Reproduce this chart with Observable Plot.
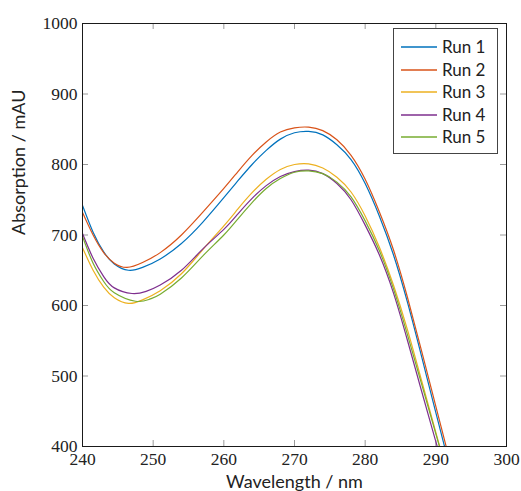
<!DOCTYPE html>
<html>
<head>
<meta charset="utf-8">
<script src="https://cdn.jsdelivr.net/npm/d3@7"></script>
<script src="https://cdn.jsdelivr.net/npm/@observablehq/plot@0.6"></script>
<style>
  html, body { margin: 0; padding: 0; background: #fff; }
  #chart { position: relative; width: 521px; height: 491px; }
  #chart svg { display: block; }
</style>
</head>
<body>
<div id="chart"></div>
<script>
// Data
const runNames = ["Run 1", "Run 2", "Run 3", "Run 4", "Run 5"];
const runColors = ["#0072BD", "#D95319", "#EDB120", "#7E2F8E", "#77AC30"];

const run1 = [[240,742],[241.5,704],[243,676],[244.5,659],[246.5,650],[248.5,654],[251,666],[254,688],[257,718],[260,753],[262,777],[264,800],[266,820],[268,836],[270,845],[272,847],[274,842],[276,828],[278,807],[280,773],[282,727],[284,672],[286,604],[288,527],[290,448],[292,370]];
const run2 = [[240,732],[241.5,700],[243,675],[244.5,660],[246.3,654],[248.5,661],[251,675],[254,700],[257,732],[260,766],[262,790],[264,813],[266,832],[268,846],[270,852],[272,853],[274,848],[276,835],[278,813],[280,779],[282,733],[284,679],[286,611],[288,535],[290,457],[292,379]];
const run3 = [[240,682],[241.5,650],[243,626],[244.5,611],[246.5,603],[248.5,608],[251,621],[254,645],[257,679],[260,713],[262,737],[264,760],[266,779],[268,793],[270,800],[272,801],[274,795],[276,782],[278,761],[280,727],[282,683],[284,629],[286,565],[288,493],[290,420],[292,347]];
const run4 = [[240,702],[241.5,667],[243,641],[244.5,625],[247,617],[249,620],[251,629],[254,650],[257,680],[260,708],[262,730],[264,752],[266,770],[268,783],[270,790],[272,792],[274,787],[276,773],[278,750],[280,714],[282,672],[284,618],[286,550],[288,478],[290,407],[292,336]];
const run5 = [[240,698],[241.5,660],[243,634],[244.5,618],[247.5,606],[249.5,609],[251,616],[254,639],[257,670],[260,700],[262,723],[264,746],[266,766],[268,780],[270,789],[272,791],[274,787],[276,775],[278,754],[280,720],[282,678],[284,624],[286,558],[288,488],[290,418],[292,348]];

const xTicks = [240, 250, 260, 270, 280, 290, 300];
const yTicks = [400, 500, 600, 700, 800, 900, 1000];
const xLabel = "Wavelength / nm";
const yLabel = "Absorption / mAU";

const runs = [run1, run2, run3, run4, run5];
const rows = runs.flatMap((r, i) => r.map(([x, y]) => ({run: runNames[i], x, y})));

const W = 521, H = 491;
const mLeft = 82, mRight = 15, mTop = 23, mBottom = 45;
const frameW = W - mLeft - mRight, frameH = H - mTop - mBottom;
const tl = 6;
const tickColor = "#9a9a9a";
const sans = "Lato, 'Open Sans', sans-serif";

const plot = Plot.plot({
  width: W,
  height: H,
  marginLeft: mLeft,
  marginRight: mRight,
  marginTop: mTop,
  marginBottom: mBottom,
  style: {background: "#fff", overflow: "visible", fontFamily: "'Liberation Serif', 'DejaVu Serif', serif", fontSize: "17.5px", color: "#222"},
  x: {domain: [240, 300], ticks: xTicks, tickSize: 0, tickPadding: 6, tickFormat: d => String(d), label: null},
  y: {domain: [400, 1000], ticks: yTicks, tickSize: 0, tickPadding: 5, tickFormat: d => String(d), label: null},
  color: {domain: runNames, range: runColors},
  marks: [
    Plot.tickX(xTicks, {x: d => d, insetTop: frameH - tl, stroke: tickColor}),
    Plot.tickX(xTicks, {x: d => d, insetBottom: frameH - tl, stroke: tickColor}),
    Plot.tickY(yTicks, {y: d => d, insetRight: frameW - tl, stroke: tickColor}),
    Plot.tickY(yTicks, {y: d => d, insetLeft: frameW - tl, stroke: tickColor}),
    Plot.line(rows, {x: "x", y: "y", z: "run", stroke: "run", curve: "natural", strokeWidth: 1.2, clip: true}),
    Plot.frame({stroke: "#1a1a1a", strokeWidth: 1}),
    Plot.text([xLabel], {text: d => d, frameAnchor: "bottom", dy: 41, fontFamily: sans, fontSize: 18, fill: "#222"}),
    Plot.text([yLabel], {text: d => d, frameAnchor: "left", dx: -63, rotate: -90, fontFamily: sans, fontSize: 18, fill: "#222"})
  ]
});

const svg = d3.select(plot);

// Legend (inside plot, top right)
const lg = svg.append("g").attr("font-family", sans).attr("font-size", 17).attr("text-anchor", "start");
lg.append("rect").attr("x", 393.5).attr("y", 28.5).attr("width", 104).attr("height", 125)
  .attr("fill", "#fff").attr("stroke", "#444").attr("stroke-width", 1);
runNames.forEach((name, i) => {
  const cy = Math.round(47 + i * 22.5);
  lg.append("path").attr("d", `M401,${cy}H437`)
    .attr("fill", "none").attr("stroke", runColors[i]).attr("stroke-width", 1.5);
  lg.append("text").attr("x", 442).attr("y", cy).attr("dy", "0.35em").attr("fill", "#222").text(name);
});

document.getElementById("chart").appendChild(plot);
</script>
</body>
</html>
